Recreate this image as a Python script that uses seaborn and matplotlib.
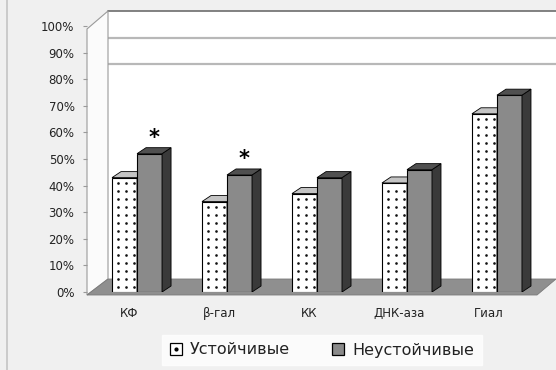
import numpy as np
import pandas as pd
import seaborn as sns
import matplotlib.pyplot as plt
from matplotlib.patches import Polygon
from matplotlib.lines import Line2D
from matplotlib.legend_handler import HandlerTuple
from matplotlib.transforms import ScaledTranslation

# Доля штаммов с активностью фермента, %
categories = ["КФ", "β-гал", "КК", "ДНК-аза", "Гиал"]
groups = ["Устойчивые", "Неустойчивые"]
stable = [43, 34, 37, 41, 67]
unstable = [52, 44, 43, 46, 74]
significant = ["КФ", "β-гал"]
yticks = [0, 10, 20, 30, 40, 50, 60, 70, 80, 90, 100]
back_grid = [80, 90, 100]

sns.set_theme(style="white")
plt.rcParams["font.family"] = ["DejaVu Sans"]

W, H = 556, 370
fig = plt.figure(figsize=(W / 100, H / 100), dpi=100)
fig.patch.set_facecolor("#f0f0f0")


def fpt(x, y):
    return (x / W, 1 - y / H)


# plot frame in pixels: front edge at x=87, values 0..100 between y=292 and y=26
X_FRONT, Y0, Y100 = 87, 292, 26
DEPTH_X, DEPTH_Y = 21, 16          # wall depth offset
BAR_DX, BAR_DY = 9, 6              # bar depth offset
DOT_STEP = 8                       # spacing of the dotted fill, px

ax = fig.add_axes([X_FRONT / W, 1 - Y0 / H, (W - X_FRONT) / W, (Y0 - Y100) / H])
ax.set_facecolor("none")

# outer border on the left
fig.add_artist(Line2D([7 / W, 7 / W], [0, 1], color="#c4c4c4", lw=1.2,
                      transform=fig.transFigure, zorder=-5))

# back wall
bx0, by_top, by_bot = X_FRONT + DEPTH_X, 11, Y0 + 3 - DEPTH_Y
fig.add_artist(Polygon([fpt(bx0, by_top), fpt(W, by_top), fpt(W, by_bot), fpt(bx0, by_bot)],
                       closed=True, fc="white", ec="none",
                       transform=fig.transFigure, zorder=-4))
px_per_unit = (Y0 - Y100) / 100
for v in back_grid:
    yy = (Y0 - v * px_per_unit) - DEPTH_Y + 1
    fig.add_artist(Line2D([bx0 / W, 1], [1 - yy / H] * 2,
                          color="#777777" if v == 100 else "#b8b8b8",
                          lw=1.3 if v == 100 else 1.6,
                          transform=fig.transFigure, zorder=-3))

# left wall
fig.add_artist(Polygon([fpt(X_FRONT, Y100 + 3), fpt(bx0, by_top), fpt(bx0, by_bot),
                        fpt(X_FRONT, Y0 + 3)],
                       closed=True, fc="#fbfbfb", ec="#9a9a9a", lw=0.8,
                       transform=fig.transFigure, zorder=-3))

# floor
fig.add_artist(Polygon([fpt(X_FRONT, Y0 + 3), fpt(bx0, by_bot), fpt(W, by_bot),
                        fpt(W - DEPTH_X + 2, Y0 + 3)],
                       closed=True, fc="#8f8f8f", ec="#7a7a7a", lw=0.6,
                       transform=fig.transFigure, zorder=-2))

df = pd.DataFrame({
    "Категория": categories * 2,
    "Группа": [groups[0]] * len(categories) + [groups[1]] * len(categories),
    "Доля": stable + unstable,
})

sns.barplot(data=df, x="Категория", y="Доля", hue="Группа",
            order=categories, hue_order=groups,
            palette=["white", "#8a8a8a"], width=0.556,
            edgecolor="black", linewidth=0.8, errorbar=None,
            legend=False, ax=ax)

ax.set_xlim(-0.556, 4.656)
ax.set_ylim(0, 100)
for s in ax.spines.values():
    s.set_visible(False)
ax.grid(False)

# depth offsets in data units
fig.canvas.draw()
p0 = ax.transData.transform((0, 0))
p1 = ax.transData.transform((1, 1))
dx = BAR_DX / (p1[0] - p0[0])
dy = BAR_DY / (p1[1] - p0[1])
step_y = DOT_STEP / (p1[1] - p0[1])

face_colors = [("#c4c4c4", "#a0a0a0"), ("#505050", "#3a3a3a")]
for k, cont in enumerate(ax.containers):
    top_c, side_c = face_colors[k]
    for bar in cont:
        bar.set_zorder(2 + k)
        x0, w, h = bar.get_x(), bar.get_width(), bar.get_height()
        if k == 0:
            # dotted fill of the front face
            ys = np.arange(step_y * 0.6, h - step_y * 0.3, step_y)
            for fx in (0.24, 0.56, 0.88):
                ax.scatter(np.full_like(ys, x0 + fx * w), ys, s=3.6, c="#111111",
                           linewidths=0, zorder=2.5)
        ax.add_patch(Polygon([(x0 + w, 0), (x0 + w + dx, dy), (x0 + w + dx, h + dy), (x0 + w, h)],
                             closed=True, fc=side_c, ec="black", lw=0.6, zorder=2 + k))
        ax.add_patch(Polygon([(x0, h), (x0 + w, h), (x0 + w + dx, h + dy), (x0 + dx, h + dy)],
                             closed=True, fc=top_c, ec="black", lw=0.6, zorder=2 + k))

# significance marks above the second bar of the pair
for bar, cat in zip(ax.containers[1], categories):
    if cat in significant:
        ax.text(bar.get_x() + bar.get_width() / 2 + dx / 2, bar.get_height() + dy, "*",
                ha="center", va="bottom", fontsize=15, fontweight="bold", color="black", zorder=5)

ax.set_yticks(yticks)
ax.set_yticklabels([f"{v}%" for v in yticks])
ax.tick_params(axis="y", left=True, length=3, width=0.8, color="#999999", pad=6,
               labelsize=8.5, labelcolor="#222222")
ax.set_xticks(range(len(categories)))
ax.set_xticklabels(categories)
ax.tick_params(axis="x", bottom=False, pad=10, labelsize=8.5, labelcolor="#222222")
shift = ScaledTranslation(-8 / 100, 7 / 100, fig.dpi_scale_trans)
for lab in ax.get_xticklabels():
    lab.set_transform(lab.get_transform() + shift)
ax.set_xlabel("")
ax.set_ylabel("")

sq_stable = Line2D([], [], ls="none", marker="s", markersize=8.5, mfc="white", mec="black", mew=0.9)
dot_stable = Line2D([], [], ls="none", marker="o", markersize=2, mfc="black", mec="black")
sq_unstable = Line2D([], [], ls="none", marker="s", markersize=8.5, mfc="#8a8a8a", mec="black", mew=0.9)
leg = fig.legend([(sq_stable, dot_stable), sq_unstable], groups, loc="center",
                 bbox_to_anchor=(322 / W, 1 - 350 / H),
                 handler_map={tuple: HandlerTuple(ndivide=1)},
                 ncol=2, frameon=True, fancybox=False, fontsize=11.5,
                 handlelength=0.8, handletextpad=0.5,
                 columnspacing=2.6, borderpad=0.45, borderaxespad=0)
leg.get_frame().set_facecolor("white")
leg.get_frame().set_edgecolor("white")
for t in leg.get_texts():
    t.set_color("#222222")

fig.savefig("out.png", dpi=100, facecolor=fig.get_facecolor())
